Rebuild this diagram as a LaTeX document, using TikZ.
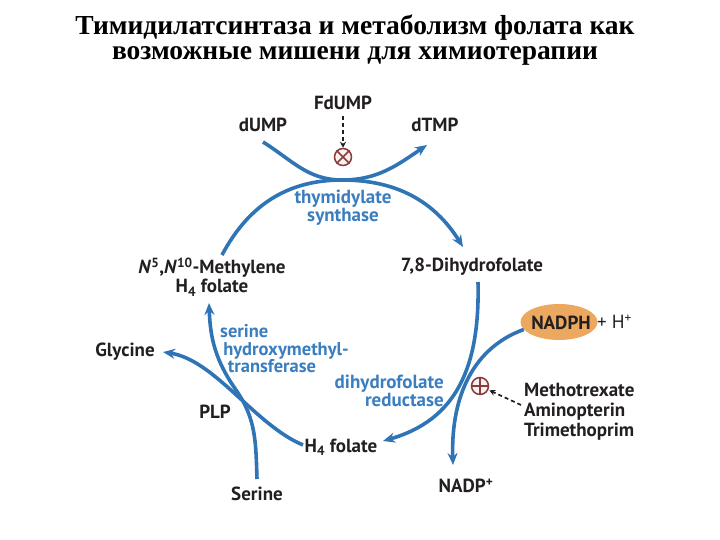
\documentclass[tikz,border=0pt]{standalone}
\usepackage{fontspec}
\setmainfont{Liberation Serif}
\newfontfamily\labfont{PT Sans}
\usetikzlibrary{arrows.meta,shapes.geometric}
\definecolor{pblue}{HTML}{2F74B5}
\definecolor{tblue}{HTML}{3A7EC0}
\definecolor{ink}{HTML}{231F20}
\definecolor{inhib}{HTML}{8C3A3A}
\definecolor{nadphc}{HTML}{EBA85E}
\begin{document}
\begin{tikzpicture}[x=1pt,y=1pt,
  lab/.style={font=\labfont\bfseries\fontsize{19}{19}\selectfont, text=ink, inner sep=0pt, align=center},
  enz/.style={font=\labfont\bfseries\fontsize{18.5}{17.5}\selectfont, text=tblue, inner sep=0pt},
  flow/.style={draw=pblue, line width=3.6pt, -{Stealth[length=12pt,width=10pt]}},
  blocker/.style={circle, draw=inhib, line width=1.5pt, fill=inhib!7, minimum size=17pt, inner sep=0pt},
  inhibarrow/.style={draw=ink, line width=1.7pt, dash pattern=on 4pt off 3pt, -{Stealth[length=6pt,width=6pt]}},
  crossline/.style={draw=inhib, line width=1.5pt}
]
\useasboundingbox (0,0) rectangle (720,-540);

% title
\node[font=\bfseries\fontsize{27.5}{25}\selectfont, align=center, inner sep=0pt] (title) at (355,-40)
  {Тимидилатсинтаза и метаболизм фолата как\\возможные мишени для химиотерапии};

% labels
\node[lab] (fdump) at (343,-103) {FdUMP};
\node[lab] (dump) at (263,-125) {dUMP};
\node[lab] (dtmp) at (435,-125) {dTMP};
\node[lab] (meth) at (212,-277) {\textit{N}\textsuperscript{5},\textit{N}\textsuperscript{10}-Methylene\\H\textsubscript{4} folate};
\node[lab] (dhf) at (472,-267) {7,8-Dihydrofolate};
\node[ellipse, fill=nadphc, minimum width=77pt, minimum height=36pt, inner sep=0pt] (nadph) at (559,-322) {};
\node[lab] (nadphtxt) at (561,-323) {NADPH};
\node[font=\labfont\fontsize{19}{19}\selectfont, text=ink, inner sep=0pt, anchor=west] (hplus) at (597,-322) {+ H\textsuperscript{+}};
\node[lab] (gly) at (125,-352) {Glycine};
\node[lab] (plp) at (215,-412) {PLP};
\node[lab] (thf) at (341,-447) {H\textsubscript{4} folate};
\node[lab] (ser) at (257,-494) {Serine};
\node[lab] (nadp) at (466,-486) {NADP\textsuperscript{+}};
\node[lab, align=left, anchor=west, font=\labfont\bfseries\fontsize{19}{20}\selectfont] (drugs) at (524,-412) {Methotrexate\\Aminopterin\\Trimethoprim};

% enzymes
\node[enz, align=center, font=\labfont\bfseries\fontsize{19}{16}\selectfont] (ts) at (343,-208) {thymidylate\\synthase};
\node[enz, align=left, anchor=west] (shmt) at (220,-349) {serine\\\,hydroxymethyl-\\\ \,transferase};
\node[enz, align=right, anchor=east, font=\labfont\bfseries\fontsize{19}{16.5}\selectfont] (dhfr) at (444,-391) {dihydrofolate\\reductase};

% inhibitor symbols
\node[blocker] (tsx) at (343,-157) {};
\draw[crossline] (tsx.45) -- (tsx.225) (tsx.135) -- (tsx.315);
\node[blocker] (dhfrx) at (480,-386) {};
\draw[crossline] (dhfrx.north) -- (dhfrx.south) (dhfrx.west) -- (dhfrx.east);

% coordinates
\coordinate (topL) at (222,-255);
\coordinate (topM) at (342,-180);
\coordinate (topR) at (463,-247);
\coordinate (dumpS) at (263,-142);
\coordinate (dtmpE) at (427,-145);
\coordinate (dhfS) at (478,-282);
\coordinate (thfE) at (383,-441);
\coordinate (thfS) at (303,-445);
\coordinate (glyE) at (163,-352);
\coordinate (serS) at (257,-479);
\coordinate (serM) at (236,-390);
\coordinate (methE) at (209,-303);
\coordinate (nadpE) at (453,-465);
\coordinate (mtxS) at (521,-405);
\coordinate (fdS) at (343,-116);

% cycle
\draw[flow] (topL) to[out=62,in=180] (topM) to[out=0,in=122] (topR);
\draw[flow] (dumpS) to[out=-32,in=180] (topM) to[out=0,in=-146] (dtmpE);
\draw[flow] (dhfS) .. controls (480,-368) and (456,-420) .. (thfE);
\draw[flow] (nadph.192) to[out=200,in=92] (nadpE);
\draw[flow] (thfS) .. controls (255,-425) and (215,-360) .. (glyE);
\draw[flow] (serS) to[out=92,in=-55] (serM) to[out=125,in=-88] (methE);

% inhibitor arrows
\draw[inhibarrow] (fdS) -- (tsx);
\draw[inhibarrow, shorten >=1pt] (mtxS) -- (dhfrx);
\end{tikzpicture}
\end{document}
